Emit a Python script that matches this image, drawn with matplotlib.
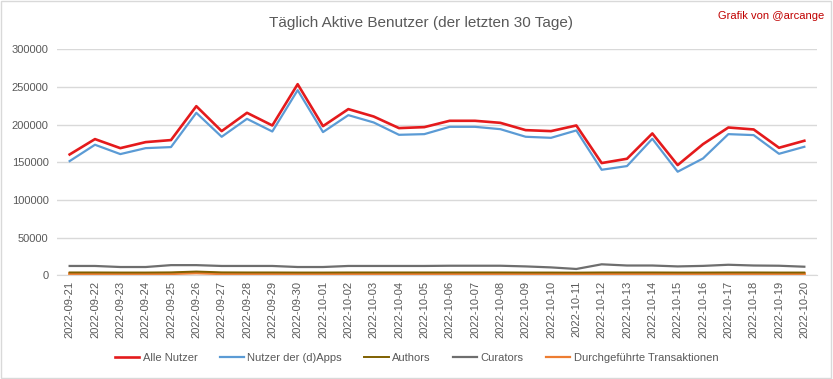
import matplotlib
matplotlib.use("Agg")
import matplotlib.pyplot as plt
from matplotlib.patches import Rectangle

plt.rcParams['font.family'] = ['Liberation Sans', 'DejaVu Sans']

dates = ['2022-09-21', '2022-09-22', '2022-09-23', '2022-09-24', '2022-09-25',
         '2022-09-26', '2022-09-27', '2022-09-28', '2022-09-29', '2022-09-30',
         '2022-10-01', '2022-10-02', '2022-10-03', '2022-10-04', '2022-10-05',
         '2022-10-06', '2022-10-07', '2022-10-08', '2022-10-09', '2022-10-10',
         '2022-10-11', '2022-10-12', '2022-10-13', '2022-10-14', '2022-10-15',
         '2022-10-16', '2022-10-17', '2022-10-18', '2022-10-19', '2022-10-20']

alle_nutzer = [160400, 180800, 168800, 176800, 179500, 224500, 191400, 215700, 198900, 253700,
               198000, 220600, 210800, 195400, 196700, 205100, 205100, 202400, 192700, 191400,
               198900, 149000, 154700, 188300, 146300, 174100, 196200, 193600, 169300, 178600]
dapps_nutzer = [151600, 173300, 160900, 168800, 170200, 215700, 183900, 207700, 190900, 245800,
                190100, 212600, 202900, 186500, 187400, 197100, 197100, 194000, 183900, 182500,
                192300, 140100, 145000, 181200, 137500, 155100, 187400, 186100, 161300, 170600]
authors = [3800, 3800, 3700, 3700, 3900, 5000, 3900, 3800, 3800, 3700,
           3700, 3800, 3800, 3800, 3800, 3800, 3800, 3800, 3700, 3700,
           3600, 3800, 3800, 3800, 3700, 3700, 3800, 3800, 3700, 3700]
curators = [12400, 12400, 11000, 11000, 13500, 13500, 12400, 12400, 12400, 11000,
            11000, 12400, 12400, 12400, 12400, 12700, 12700, 12700, 11800, 10500,
            8400, 14600, 13000, 13000, 11800, 12500, 14000, 13000, 12700, 11400]
transaktionen = [2100, 2100, 2000, 2000, 2300, 3300, 2200, 2100, 2100, 2000,
                 2000, 2100, 2100, 2100, 2100, 2100, 2100, 2100, 2000, 2000,
                 1900, 2100, 2100, 2100, 2000, 2000, 2100, 2100, 2000, 2000]

fig = plt.figure(figsize=(8.33, 3.79), dpi=100)
ax = fig.add_axes([0.0684, 0.2736, 0.9124, 0.5963])

x = list(range(len(dates)))
ax.plot(x, alle_nutzer, color='#E41A1C', lw=1.9, label='Alle Nutzer', zorder=5)
ax.plot(x, dapps_nutzer, color='#5B9BD5', lw=1.6, label='Nutzer der (d)Apps', zorder=4)
ax.plot(x, transaktionen, color='#ED7D31', lw=2.2, label='_nolegend_', zorder=2)
ax.plot(x, authors, color='#7F6000', lw=1.4, label='Authors', zorder=3)
ax.plot(x, curators, color='#6E6E6E', lw=1.6, label='Curators', zorder=3)
ax.plot([], [], color='#ED7D31', lw=1.6, label='Durchgeführte Transaktionen')

ax.set_xlim(-0.5, len(dates) - 0.5)
ax.set_ylim(0, 300000)
ax.set_yticks(range(0, 300001, 50000))
ax.set_yticklabels([str(v) for v in range(0, 300001, 50000)], fontsize=8, color='#595959')
ax.set_xticks(x)
ax.set_xticklabels(dates, rotation=90, fontsize=8, color='#595959')
ax.tick_params(axis='both', length=0, pad=6)
ax.tick_params(axis='x', pad=4)
ax.grid(axis='y', color='#D9D9D9', lw=1)
ax.set_axisbelow(True)
for s in ['top', 'right', 'left']:
    ax.spines[s].set_visible(False)
ax.spines['bottom'].set_color('#D9D9D9')

fig.text(0.505, 0.94, 'Täglich Aktive Benutzer (der letzten 30 Tage)', ha='center', va='center',
         fontsize=11, color='#595959')
fig.text(0.99, 0.958, 'Grafik von @arcange', ha='right', va='center', fontsize=8, color='#C00000')

fig.legend(loc='center', bbox_to_anchor=(0.5, 0.055), ncol=5, frameon=False, fontsize=8,
           handlelength=2.2, handletextpad=0.3, columnspacing=2.0, labelcolor='#595959')

fig.patches.append(Rectangle((0.001, 0.002), 0.997, 0.995, transform=fig.transFigure,
                             fill=False, edgecolor='#D9D9D9', lw=1))

fig.savefig('out.png', dpi=100)
